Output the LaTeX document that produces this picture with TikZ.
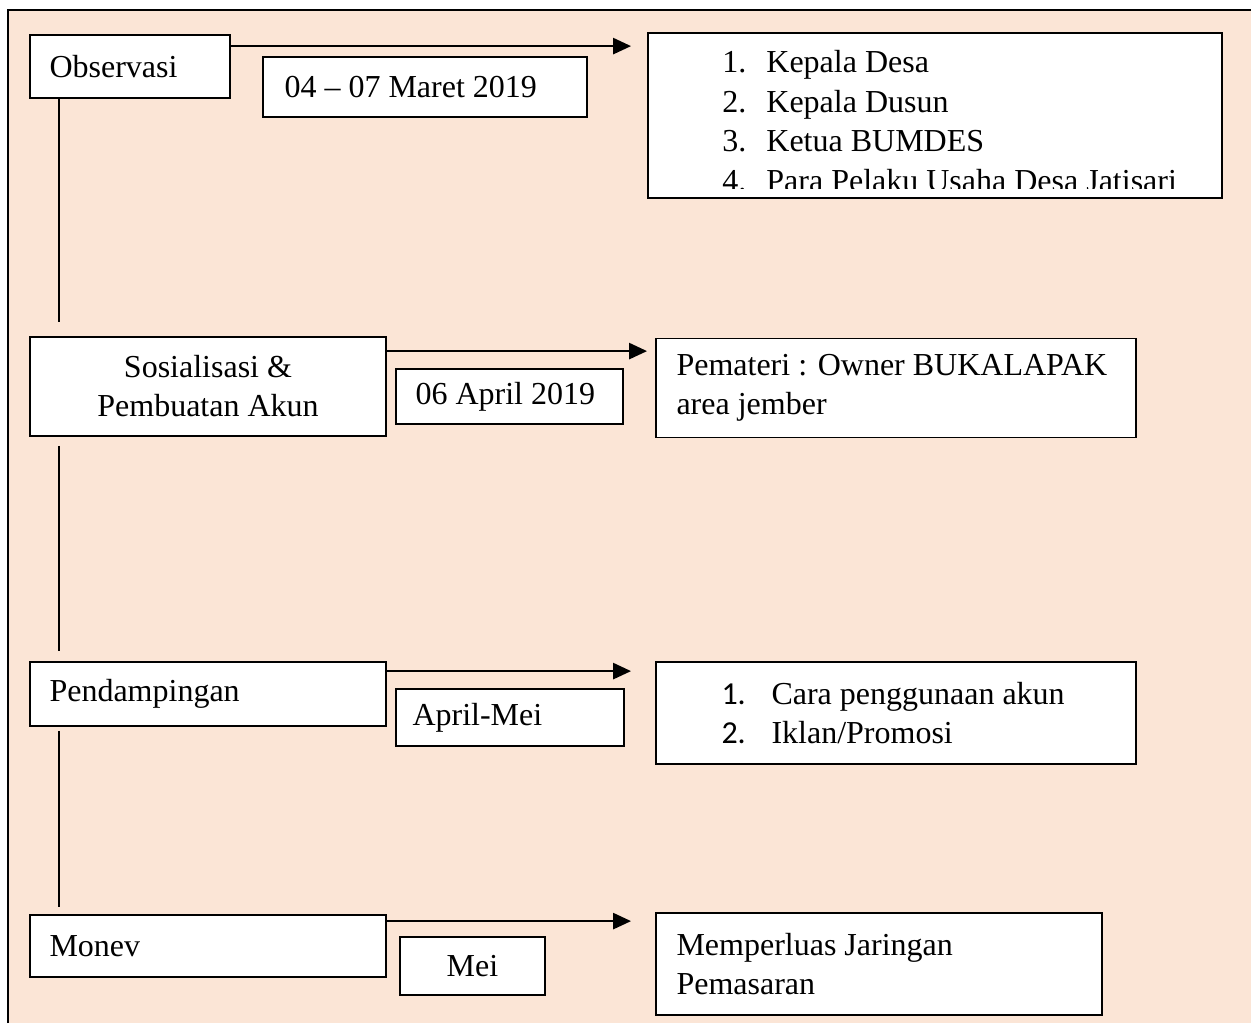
\documentclass[tikz,border=0pt]{standalone}
\usepackage{fontspec}
\setmainfont{Liberation Serif}
\newfontfamily\calibsans{Carlito}
\usetikzlibrary{positioning,arrows.meta,calc}
\definecolor{peach}{HTML}{FBE5D6}

\begin{document}
\begin{tikzpicture}[
    x=0.5pt, y=-0.5pt,
    box/.style={draw, fill=white, line width=0.9pt, inner sep=0pt},
    txt/.style={inner sep=0pt, anchor=west, align=left, font=\fontsize{16}{19.5}\selectfont},
    item/.style={anchor=base west, inner sep=0pt, font=\fontsize{16}{19.5}\selectfont},
    arr/.style={-{Triangle[length=9pt, width=8pt]}, line width=1.3pt, shorten >=8pt},
    vline/.style={line width=0.75pt},
]
  \useasboundingbox (0,0) rectangle (1251,1023);
  \fill[peach] (8,10) rectangle (1251,1023);
  \draw[line width=1pt] (8,1023) -- (8,10) -- (1251,10);

  % left column
  \node[box, minimum width=100pt, minimum height=31.5pt] (obs) at (130,66.5) {};
  \node[box, minimum width=178pt, minimum height=49.5pt] (sos) at (208,386.5) {};
  \node[box, minimum width=178pt, minimum height=32pt] (pend) at (208,694) {};
  \node[box, minimum width=178pt, minimum height=31pt] (monev) at (208,946) {};
  \node[txt] (obs-t) at ([xshift=10pt]obs.west) {Observasi};
  \node[txt, anchor=center, align=center] (sos-t) at (sos.center) {Sosialisasi \&\\Pembuatan Akun};
  \node[txt] (pend-t) at ([xshift=10pt]pend.west) {Pendampingan};
  \node[txt] (monev-t) at ([xshift=10pt]monev.west) {Monev};

  % dates
  \node[box, minimum width=162pt, minimum height=30pt] (tgl1) at (425,87) {};
  \node[box, minimum width=113.5pt, minimum height=27.5pt] (tgl2) at (509.5,396.5) {};
  \node[box, minimum width=114pt, minimum height=28.5pt] (tgl3) at (510,717.5) {};
  \node[box, minimum width=72.5pt, minimum height=29pt] (tgl4) at (472.5,966) {};
  \node[txt] (tgl1-t) at ([xshift=11pt]tgl1.west) {04 -- 07 Maret 2019};
  \node[txt] (tgl2-t) at ([xshift=10pt]tgl2.west) {06 April 2019};
  \node[txt] (tgl3-t) at ([xshift=8.5pt]tgl3.west) {April-Mei};
  \node[txt, anchor=center] (tgl4-t) at (tgl4.center) {Mei};

  % right column
  \node[box, minimum width=287pt, minimum height=82.5pt] (kep) at (935,115.5) {};
  \begin{scope}
    \clip ([yshift=5pt]kep.south west) rectangle (kep.north east);
    \foreach \i/\t in {1/Kepala Desa, 2/Kepala Dusun, 3/Ketua BUMDES, 4/Para Pelaku Usaha Desa Jatisari}
      \node[item] (kep\i) at (722,33+39.5*\i) {\makebox[22pt][l]{\i.}\t};
  \end{scope}
  \node[box, minimum width=240pt, minimum height=49.5pt] (materi) at (896,388) {};
  \node[box, minimum width=240pt, minimum height=51pt] (cara) at (896,713) {};
  \node[box, minimum width=223pt, minimum height=51pt] (pasar) at (879,964) {};
  \node[txt] (materi-t) at ([xshift=10.5pt]materi.west) {Pemateri : Owner BUKALAPAK\\area jember};
  \node[txt] (cara-t) at ([xshift=33pt]cara.west)
    {\makebox[25pt][l]{\calibsans 1.}Cara penggunaan akun\\\makebox[25pt][l]{\calibsans 2.}Iklan/Promosi};
  \node[txt] (pasar-t) at ([xshift=10.5pt]pasar.west) {Memperluas Jaringan\\Pemasaran};

  % arrows
  \draw[arr] ([yshift=-6pt]obs.north east) -- ([yshift=-6pt]obs.north east -| kep.west);
  \draw[arr, shorten >=4pt] ([yshift=-7.5pt]sos.north east) -- ([yshift=-7.5pt]sos.north east -| materi.west);
  \draw[arr, shorten >=12pt] ([yshift=-5pt]pend.north east) -- ([yshift=-5pt]pend.north east -| cara.west);
  \draw[arr, shorten >=12pt] ([yshift=-3.5pt]monev.north east) -- ([yshift=-3.5pt]monev.north east -| pasar.west);

  % vertical links
  \draw[vline] ([xshift=15pt]obs.south west) -- ([xshift=15pt, yshift=7pt]sos.north west);
  \draw[vline] ([xshift=15pt, yshift=-4.5pt]sos.south west) -- ([xshift=15pt, yshift=5pt]pend.north west);
  \draw[vline] ([xshift=15pt, yshift=-2pt]pend.south west) -- ([xshift=15pt, yshift=3.5pt]monev.north west);
\end{tikzpicture}
\end{document}
